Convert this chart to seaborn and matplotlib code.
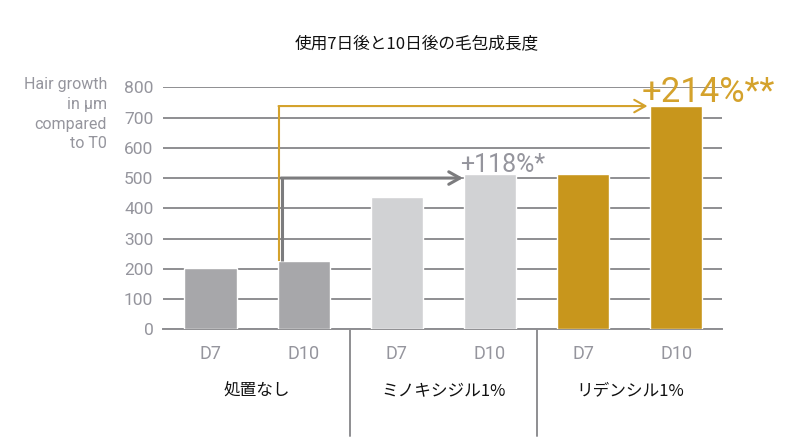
import matplotlib
matplotlib.use("Agg")
import matplotlib.pyplot as plt
import matplotlib.transforms as mtransforms
import seaborn as sns
import pandas as pd

# ---- data ----
groups = ["処置なし", "ミノキシジル1%", "リデンシル1%"]
days = ["D7", "D10"]
values_none = [202, 226]
values_minox = [437, 512]
values_redensyl = [515, 738]
annot_minox = "+118%*"
annot_redensyl = "+214%**"
yticks = [0, 100, 200, 300, 400, 500, 600, 700, 800]
ylabel = "Hair growth\nin µm\ncompared\nto T0"
title = "使用7日後と10日後の毛包成長度"

c_none = "#A7A7AA"
c_minox = "#D1D2D4"
c_red = "#C8961C"
c_gold_line = "#D4A22C"
c_gray_line = "#7C7C7E"
c_grid = "#8E8E92"
c_text = "#95959D"

bars, vals, cols = [], [], []
for g, vs, c in zip(groups, [values_none, values_minox, values_redensyl], [c_none, c_minox, c_red]):
    for d, v in zip(days, vs):
        bars.append(f"{g} {d}")
        vals.append(v)
        cols.append(c)
df = pd.DataFrame({"bar": bars, "value": vals})

sns.set_style("white")
narrow = ["Roboto", "DejaVu Sans"]
jp = ["Noto Sans CJK JP", "DejaVu Sans"]
plt.rcParams["font.family"] = narrow

fig = plt.figure(figsize=(8, 4.42), dpi=100)
ax = fig.add_axes([163 / 800, 1 - 329.3 / 442, (722 - 163) / 800, (329.3 - 87.3) / 442])

sns.barplot(data=df, x="bar", y="value", hue="bar", palette=dict(zip(bars, cols)),
            width=0.56, saturation=1, legend=False, ax=ax, zorder=3)

ax.set_xlim(-0.51, 5.49)
ax.set_ylim(0, 800)
ax.set_yticks(yticks)
ax.set_yticklabels([str(t) for t in yticks], fontsize=12.5, color=c_text)
ax.set_xticks(range(len(bars)))
ax.set_xticklabels(days * len(groups), fontsize=13, color=c_text)
ax.tick_params(axis="y", length=0, pad=7)
ax.tick_params(axis="x", length=0, pad=11)
ax.set_xlabel("")
ax.set_ylabel("")
ax.yaxis.grid(True, color=c_grid, lw=1.4)
ax.xaxis.grid(False)
ax.set_axisbelow(True)
for s in ["left", "right", "top"]:
    ax.spines[s].set_visible(False)
ax.spines["bottom"].set_color(c_grid)
ax.spines["bottom"].set_linewidth(1.4)

# separators between groups
trans = mtransforms.blended_transform_factory(ax.transData, ax.transAxes)
for xs in [1.5, 3.5]:
    ax.plot([xs, xs], [0, -0.44], transform=trans, color=c_grid, lw=1.4, clip_on=False)

# group labels
for i, g in enumerate(groups):
    ax.text(2 * i + 0.5, -0.255, g, transform=trans, ha="center", va="center",
            fontsize=12, color="#111111", family=jp)

# arrows
x_gold = 0.738
x_gray = 0.767
ax.plot([x_gold, x_gold], [values_none[1], values_redensyl[1]], color=c_gold_line, lw=1.5, zorder=4,
        solid_capstyle="butt")
ax.annotate("", xy=(4.69, values_redensyl[1]), xytext=(x_gold - 0.008, values_redensyl[1]),
            arrowprops=dict(arrowstyle="->,head_length=0.8,head_width=0.45", color=c_gold_line, lw=1.5,
                            shrinkA=0, shrinkB=0), zorder=4)
ax.plot([x_gray, x_gray], [values_none[1], 500], color=c_gray_line, lw=2.2, zorder=4,
        solid_capstyle="butt")
ax.annotate("", xy=(2.71, 500), xytext=(x_gray - 0.01, 500),
            arrowprops=dict(arrowstyle="->,head_length=0.8,head_width=0.45", color=c_gray_line, lw=2.2,
                            shrinkA=0, shrinkB=0), zorder=4)

ax.text(2.68, 520, annot_minox, fontsize=18, color=c_text, ha="left", va="baseline", zorder=5)
ax.text(4.63, 753, annot_redensyl, fontsize=25, color=c_gold_line, ha="left", va="baseline", zorder=5,
        clip_on=False)

# y label
fig.text(107 / 800, 1 - 77 / 442, ylabel, ha="right", va="top", fontsize=11.5, color=c_text,
         linespacing=1.4)

fig.text(417 / 800, 1 - 45 / 442, title, ha="center", va="center", fontsize=12, color="#111111",
         family=jp)

fig.savefig("out.png", dpi=100, facecolor="white")
